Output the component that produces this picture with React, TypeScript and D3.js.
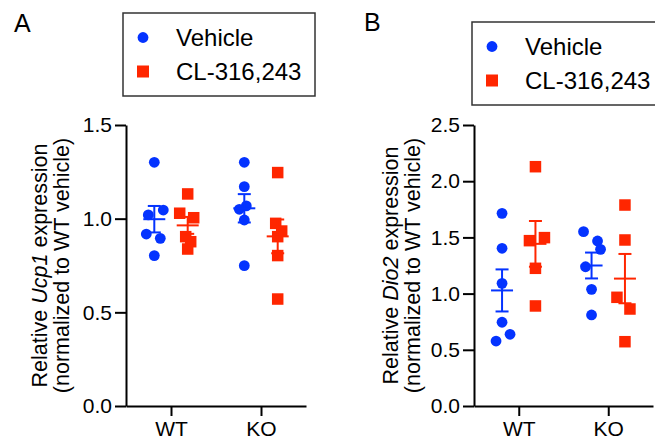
import React, { useEffect, useRef } from 'react';
import * as d3 from 'd3';

const genotypes = ['WT', 'KO'];
const treatments = ['Vehicle', 'CL-316,243'];

// Panel A - relative Ucp1 expression
const ucp1VehicleWT = [1.301, 1.02, 1.046, 0.918, 0.895, 0.803];
const ucp1CLWT = [1.132, 1.029, 1.005, 0.904, 0.877, 0.838];
const ucp1VehicleKO = [1.301, 1.171, 1.068, 1.05, 0.993, 0.749];
const ucp1CLKO = [1.246, 0.975, 0.934, 0.904, 0.803, 0.571];

// Panel B - relative Dio2 expression
const dio2VehicleWT = [1.714, 1.403, 1.091, 0.745, 0.578, 0.638];
const dio2CLWT = [2.129, 1.471, 1.498, 1.225, 0.89];
const dio2VehicleKO = [1.551, 1.468, 1.394, 1.239, 1.038, 0.81];
const dio2CLKO = [1.788, 1.477, 0.967, 0.863, 0.572];

// horizontal scatter of the dots (px)
const jitterUcp1 = [
  [[0, -6, 9, -8, 6, 0], [0, -8, 6, -2, 3, 0]],
  [[0, 0, 2, -5, 0, 0], [0, -2, 4, 0, 0, 0]],
];
const jitterDio2 = [
  [[0, 0, 0, 0, -6, 8], [0, -6, 9, 0, 0]],
  [[-8, 6, 9, -6, 0, 0], [0, 0, -8, 5, 0]],
];

const yTicksUcp1 = [0, 0.5, 1.0, 1.5];
const yTicksDio2 = [0, 0.5, 1.0, 1.5, 2.0, 2.5];

const BLUE = '#0433ff';
const RED = '#ff2600';
const FONT = '"Liberation Sans", Arial, Helvetica, sans-serif';

const panels = [
  {
    letter: 'A', letterX: 14, letterY: 32,
    gene: 'Ucp1',
    groups: [[ucp1VehicleWT, ucp1CLWT], [ucp1VehicleKO, ucp1CLKO]],
    jitter: jitterUcp1,
    ticks: yTicksUcp1,
    x0: 126, x1: 306,
    titleX: 47, title2X: 69,
    legend: { x: 123, y: 13, w: 192, h: 83 },
  },
  {
    letter: 'B', letterX: 364, letterY: 31,
    gene: 'Dio2',
    groups: [[dio2VehicleWT, dio2CLWT], [dio2VehicleKO, dio2CLKO]],
    jitter: jitterDio2,
    ticks: yTicksDio2,
    x0: 474, x1: 653,
    titleX: 398, title2X: 420,
    legend: { x: 472, y: 22, w: 200, h: 83 },
  },
];

const Y0 = 406;
const Y1 = 125;

const App = () => {
  const svgRef = useRef(null);

  useEffect(() => {
    const svg = d3.select(svgRef.current);
    svg.selectAll('*').remove();

    panels.forEach(p => {
      const g = svg.append('g');

      const y = d3.scaleLinear()
        .domain([0, d3.max(p.ticks)])
        .range([Y0, Y1]);

      const x = d3.scalePoint()
        .domain(genotypes)
        .range([p.x0, p.x1])
        .padding(0.5);

      const sub = d3.scalePoint()
        .domain(treatments)
        .range([-16.7, 16.7]);

      // panel letter
      g.append('text')
        .attr('x', p.letterX)
        .attr('y', p.letterY)
        .style('font-family', FONT)
        .style('font-size', '25px')
        .text(p.letter);

      // y axis
      const yAxis = g.append('g')
        .attr('transform', `translate(${p.x0},0)`)
        .call(d3.axisLeft(y).tickValues(p.ticks).tickFormat(d3.format('.1f'))
          .tickSize(11).tickSizeOuter(0).tickPadding(3));
      yAxis.selectAll('path, line').attr('stroke', '#000').attr('stroke-width', 2);
      yAxis.selectAll('text')
        .style('font-family', FONT)
        .style('font-size', '21px')
        .attr('fill', '#000');

      // x axis
      const xAxis = g.append('g')
        .attr('transform', `translate(0,${Y0})`)
        .call(d3.axisBottom(x).tickSize(10).tickSizeOuter(0).tickPadding(5));
      xAxis.selectAll('path, line').attr('stroke', '#000').attr('stroke-width', 2);
      xAxis.selectAll('text')
        .style('font-family', FONT)
        .style('font-size', '21px')
        .attr('fill', '#000');

      // y title
      const cy = (Y0 + Y1) / 2;
      const t1 = g.append('text')
        .attr('transform', `translate(${p.titleX},${cy}) rotate(-90)`)
        .attr('text-anchor', 'middle')
        .style('font-family', FONT)
        .style('font-size', '21.5px');
      t1.append('tspan').text('Relative ');
      t1.append('tspan').style('font-style', 'italic').text(p.gene);
      t1.append('tspan').text(' expression');
      g.append('text')
        .attr('transform', `translate(${p.title2X},${cy}) rotate(-90)`)
        .attr('text-anchor', 'middle')
        .style('font-family', FONT)
        .style('font-size', '21.5px')
        .text('(normalized to WT vehicle)');

      // points + mean ± SEM
      genotypes.forEach((gt, gi) => {
        treatments.forEach((tr, ti) => {
          const vals = p.groups[gi][ti];
          const jit = p.jitter[gi][ti];
          const cx = x(gt) + sub(tr);
          const color = ti === 0 ? BLUE : RED;

          if (ti === 0) {
            g.selectAll(null)
              .data(vals)
              .enter()
              .append('circle')
              .attr('cx', (d, i) => cx + jit[i])
              .attr('cy', d => y(d))
              .attr('r', 5.4)
              .attr('fill', color);
          } else {
            const s = 11.5;
            g.selectAll(null)
              .data(vals)
              .enter()
              .append('rect')
              .attr('x', (d, i) => cx + jit[i] - s / 2)
              .attr('y', d => y(d) - s / 2)
              .attr('width', s)
              .attr('height', s)
              .attr('fill', color);
          }

          const m = d3.mean(vals);
          const sem = d3.deviation(vals) / Math.sqrt(vals.length);
          const eb = g.append('g').attr('stroke', color).attr('stroke-width', 2);
          eb.append('line')
            .attr('x1', cx).attr('x2', cx)
            .attr('y1', y(m - sem)).attr('y2', y(m + sem));
          eb.append('line')
            .attr('x1', cx - 11).attr('x2', cx + 11)
            .attr('y1', y(m)).attr('y2', y(m));
          [m - sem, m + sem].forEach(v => {
            eb.append('line')
              .attr('x1', cx - 6.5).attr('x2', cx + 6.5)
              .attr('y1', y(v)).attr('y2', y(v));
          });
        });
      });

      // legend
      const L = p.legend;
      const lg = g.append('g').attr('transform', `translate(${L.x},${L.y})`);
      lg.append('rect')
        .attr('width', L.w)
        .attr('height', L.h)
        .attr('fill', '#fff')
        .attr('stroke', '#333')
        .attr('stroke-width', 1.5);
      lg.append('circle')
        .attr('cx', 20).attr('cy', 24.5).attr('r', 5.4).attr('fill', BLUE);
      lg.append('rect')
        .attr('x', 14).attr('y', 52.5).attr('width', 12).attr('height', 12).attr('fill', RED);
      treatments.forEach((tr, i) => {
        lg.append('text')
          .attr('x', 53)
          .attr('y', 32.5 + i * 34)
          .style('font-family', FONT)
          .style('font-size', '24px')
          .text(tr);
      });
    });
  }, []);

  return (
    <svg
      ref={svgRef}
      width={655}
      height={445}
      style={{ position: 'absolute', left: 0, top: 0, background: '#fff' }}
    />
  );
};

export default App;
